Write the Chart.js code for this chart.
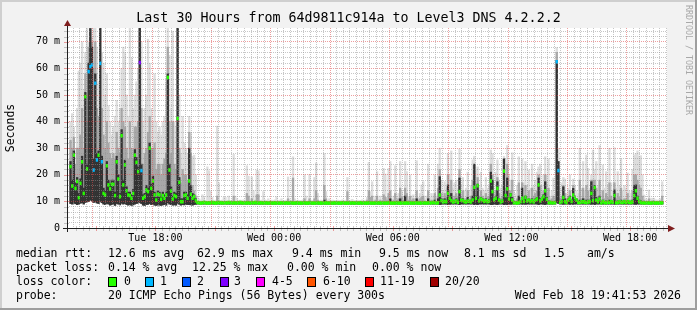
<!DOCTYPE html>
<html><head><meta charset="utf-8">
<script src="https://cdn.jsdelivr.net/npm/chart.js@4.4.1/dist/chart.umd.min.js"></script>
<style>html,body{margin:0;padding:0;background:#f2f2f2;}canvas{display:block;}</style>
</head><body>
<canvas id="c" width="697" height="310"></canvas>
<script>
// ---------- DATA (5-minute steps, ms) ----------
const med = [
23.1,15.8,27.4,14.9,17.5,11.4,16.8,24.9,13.0,49.4,22.2,58.8,
60.7,61.3,21.8,54.4,25.6,27.4,61.9,24.9,13.0,12.4,23.4,16.2,
14.7,16.4,16.4,12.2,24.9,18.4,11.8,34.7,16.2,23.7,14.0,12.4,
12.2,11.2,13.0,27.4,24.7,21.2,62.2,21.6,11.2,11.8,14.3,13.7,
30.0,14.9,17.7,12.4,10.5,12.7,12.4,10.8,12.2,11.2,12.4,56.6,
21.8,13.9,10.9,12.2,11.8,41.2,17.2,9.9,9.9,12.2,12.4,11.2,
17.7,12.7,11.2,11.8,10.2,9.6,9.5,9.4,9.5,9.6,9.5,9.4,
9.5,9.5,9.6,9.5,9.4,9.5,9.6,9.5,9.5,9.4,9.5,9.5,
9.6,9.5,9.4,9.5,9.5,9.4,9.5,9.6,9.5,9.4,9.4,9.5,
9.5,9.4,9.5,9.5,9.6,9.5,9.4,9.5,9.5,9.4,9.5,9.5,
9.4,9.5,9.4,9.4,9.5,9.4,9.4,9.4,9.5,9.4,9.4,9.5,
9.4,9.4,9.5,9.4,9.4,9.5,9.4,9.4,9.4,9.4,9.5,9.4,
9.4,9.5,9.4,9.4,9.4,9.4,9.5,9.4,9.4,9.4,9.4,9.5,
9.4,9.4,9.4,9.4,9.5,9.4,9.4,9.4,9.4,9.5,9.4,9.4,
9.4,9.4,9.4,9.5,9.4,9.4,9.4,9.4,9.5,9.4,9.4,9.4,
9.4,9.5,9.4,9.4,9.4,9.4,9.4,9.5,9.4,9.4,9.4,9.4,
9.4,9.5,9.4,9.4,9.4,9.4,9.5,9.4,9.4,9.4,9.4,9.4,
9.5,9.4,9.4,9.4,9.4,9.4,9.5,9.4,9.4,9.4,9.4,9.5,
9.4,9.5,9.4,9.5,9.6,9.5,9.4,9.5,12.4,10.3,9.8,10.0,
9.9,13.0,11.2,10.3,9.8,9.9,10.2,9.7,13.7,10.5,10.3,9.9,
9.8,10.1,10.0,9.8,10.5,15.3,11.2,15.9,10.2,10.9,10.5,10.0,
10.3,9.9,10.1,17.7,13.7,10.6,11.2,14.9,10.5,9.8,10.1,21.4,
12.2,14.7,10.9,12.4,10.5,9.5,9.5,9.4,9.6,9.9,11.2,10.0,
11.5,10.2,10.5,9.9,10.3,9.8,10.4,10.9,16.2,10.2,10.9,11.8,
14.0,10.8,9.5,9.6,9.5,9.5,9.5,62.5,21.6,9.7,9.9,11.5,
9.9,9.6,10.5,11.2,10.0,12.4,11.4,10.5,9.6,9.6,9.8,9.9,
9.7,9.6,9.8,9.9,13.0,10.3,15.2,10.5,9.9,10.9,9.4,9.9,
9.6,9.5,9.7,9.6,9.9,9.7,12.2,9.5,9.6,9.8,9.7,9.6,
9.9,9.6,9.9,9.7,9.6,9.8,12.2,14.0,11.2,9.9,9.6,9.5,
9.5,9.4,9.5,9.5,9.4,9.5,9.5,9.4,9.5,9.4,9.5,9.5];

// lost pings (of 20) per step
const loss = [
0,0,0,0,0,0,0,0,0,0,0,1,
1,1,1,1,1,0,1,1,0,0,0,0,
0,0,0,0,0,0,0,0,0,0,0,0,
0,0,0,0,0,0,3,1,0,0,0,0,
0,0,0,0,0,0,0,0,0,0,0,0,
0,0,0,0,0,0,0,0,0,0,0,0,
0,0,0,0,0,0,0,0,0,0,0,0,
0,0,0,0,0,0,0,0,0,0,0,0,
0,0,0,0,0,0,0,0,0,0,0,0,
0,0,0,0,0,0,0,0,0,0,0,0,
0,0,0,0,0,0,0,0,0,0,0,0,
0,0,0,0,0,0,0,0,0,0,0,0,
0,0,0,0,0,0,0,0,0,0,0,0,
0,0,0,0,0,0,0,0,0,0,0,0,
0,0,0,0,0,0,0,0,0,0,0,0,
0,0,0,0,0,0,0,0,0,0,0,0,
0,0,0,0,0,0,0,0,0,0,0,0,
0,0,0,0,0,0,0,0,0,0,0,0,
0,0,0,0,0,0,0,0,0,0,0,0,
0,0,0,0,0,0,0,0,0,0,0,0,
0,0,0,0,0,0,0,0,0,0,0,0,
0,0,0,0,0,0,0,0,0,0,0,0,
0,0,0,0,0,0,0,0,0,0,0,0,
0,0,0,0,0,0,0,0,0,0,0,0,
0,0,0,0,0,0,0,1,1,0,0,0,
0,0,0,0,0,0,0,0,0,0,0,0,
0,0,0,0,0,0,0,0,0,0,0,0,
0,0,0,0,0,0,0,0,0,0,0,0,
0,0,0,0,0,0,0,0,0,0,0,0,
0,0,0,0,0,0,0,0,0,0,0,0];

// fastest ping per step
const lo = [
9.2,9.0,9.4,9.1,8.8,9.0,9.3,9.5,9.0,9.6,9.8,10.0,
10.5,10.2,9.6,9.8,9.4,9.2,10.0,9.5,9.0,8.8,9.2,9.0,
8.6,8.8,9.0,8.5,9.2,9.0,8.7,9.3,9.0,9.2,8.8,8.6,
8.8,8.5,8.7,9.0,9.2,9.4,9.6,9.2,8.6,8.5,8.8,8.9,
9.2,8.8,9.0,8.6,8.5,8.7,8.6,8.5,8.7,8.8,8.6,9.5,
9.0,8.8,8.6,8.7,8.6,9.3,8.9,8.6,8.8,8.7,8.9,8.8,
8.8,8.7,8.6,8.8,8.9,9.0,9.0,9.0,9.0,9.0,9.0,9.0,
9.0,9.0,9.0,9.0,9.0,9.0,9.0,9.0,9.0,9.0,9.0,9.0,
9.0,9.0,9.0,9.0,9.0,9.0,9.0,9.0,9.0,9.0,9.0,9.0,
9.0,9.0,9.0,9.0,9.0,9.0,9.0,9.0,9.0,9.0,9.0,9.0,
9.0,9.0,9.0,9.0,9.0,9.0,9.0,9.0,9.0,9.0,9.0,9.0,
9.0,9.0,9.0,9.0,9.0,9.0,9.0,9.0,9.0,9.0,9.0,9.0,
9.0,9.0,9.0,9.0,9.0,9.0,9.0,9.0,9.0,9.0,9.0,9.0,
9.0,9.0,9.0,9.0,9.0,9.0,9.0,9.0,9.0,9.0,9.0,9.0,
9.0,9.0,9.0,9.0,9.0,9.0,9.0,9.0,9.0,9.0,9.0,9.0,
9.0,9.0,9.0,9.0,9.0,9.0,9.0,9.0,9.0,9.0,9.0,9.0,
9.0,9.0,9.0,9.0,9.0,9.0,9.0,9.0,9.0,9.0,9.0,9.0,
9.0,9.0,9.0,9.0,9.0,9.0,9.0,9.0,9.0,9.0,9.0,9.0,
9.0,9.0,9.0,9.0,9.0,9.0,9.0,9.0,8.8,8.9,9.0,9.0,
9.0,8.8,8.9,9.0,9.0,9.0,9.0,9.0,8.8,9.0,9.0,9.0,
9.0,9.0,9.0,9.0,9.0,8.8,8.9,8.8,9.0,9.0,9.0,9.0,
9.0,9.0,9.0,8.8,8.8,9.0,8.9,8.8,9.0,9.0,9.0,8.8,
8.9,8.8,9.0,8.9,9.0,9.0,9.0,9.0,9.0,9.0,8.9,9.0,
8.9,9.0,9.0,9.0,9.0,9.0,9.0,9.0,8.8,9.0,9.0,8.9,
8.8,9.0,9.0,9.0,9.0,9.0,9.0,9.6,9.2,9.0,9.0,8.9,
9.0,9.0,9.0,8.9,9.0,8.9,9.0,9.0,9.0,9.0,9.0,9.0,
9.0,9.0,9.0,9.0,8.9,9.0,8.8,9.0,9.0,9.0,9.0,9.0,
9.0,9.0,9.0,9.0,9.0,9.0,8.9,9.0,9.0,9.0,9.0,9.0,
9.0,9.0,9.0,9.0,9.0,9.0,8.9,8.9,9.0,9.0,9.0,9.0,
9.0,9.0,9.0,9.0,9.0,9.0,9.0,9.0,9.0,9.0,9.0,9.0];

// top of dense (dark) smoke
const dk = [
25,18,29,17,19,13,18.5,27,15,51,24,62,
75,68,26,58,28,29,78,27,15,14,25,18,
16.5,18,18,13.5,27,20,13,37,18,25.5,15.5,13.5,
13.5,12.5,14.5,29.5,26.5,23,78,24,12.5,13,16,15,
32,16.5,19.5,13.5,11.5,14,13.5,12,13.5,12.5,13.5,58,
24,15.5,12,13.5,13,78,19,11,11,13.5,13.5,12.5,
30,16,13,12.5,11,9.6,9.6,9.6,9.6,9.6,9.6,9.6,
9.6,9.6,9.6,9.6,9.6,9.6,9.6,9.6,9.6,9.6,9.6,9.6,
9.6,9.6,9.6,9.6,9.6,9.6,9.6,9.6,9.6,9.6,9.6,9.6,
9.6,9.6,9.6,9.6,9.6,9.6,9.6,9.6,9.6,9.6,9.6,9.6,
9.6,9.6,9.6,9.6,9.6,9.6,9.6,9.6,9.6,9.6,9.6,9.6,
9.6,9.6,9.6,9.6,9.6,9.6,9.6,9.6,9.6,9.6,9.6,9.6,
9.6,9.6,9.6,9.6,9.6,9.6,9.6,9.6,9.6,9.6,10.5,9.6,
9.6,9.6,9.6,9.6,9.6,9.6,9.6,9.6,9.6,9.6,9.6,9.6,
9.6,9.6,9.6,9.6,9.6,9.6,9.6,9.6,9.6,9.6,9.6,9.6,
9.6,9.6,9.6,9.6,9.6,9.6,9.6,9.6,9.6,9.6,9.6,9.6,
9.6,9.6,11,9.6,9.6,9.6,9.6,9.6,11,9.6,9.6,12,
9.6,9.6,9.6,9.6,9.6,9.6,11,9.6,9.6,9.6,9.6,9.6,
9.6,11,9.6,9.8,9.8,10.5,9.6,11,19.3,11,10.2,11,
10.5,16.2,12,13,10.2,10.5,11,10.3,18.8,11,11,10.2,
10.2,11.5,10.3,10.5,12,24,12,16.5,10.8,11.5,11,10.3,
11,10.3,10.8,21,18,10.8,12,17.4,11,10.2,10.5,26,
12.5,18.8,11.5,13,11.5,9.8,9.6,9.8,12,10.3,15,10.5,
12,10.5,11,10.2,11,10.2,11,11.5,18.8,11,11,12.5,
17.4,11.5,10.2,9.8,9.8,10,9.7,63,25,10,10.5,15.5,
11,10,11,12,10.5,14.9,12,11,9.8,10.5,10,11,
10,10.5,10.5,10.2,17.4,11,16,11.5,10.2,12,9.6,10.5,
10,10.2,10,10.5,10.2,10,14.3,9.8,10.2,10,10.5,9.8,
10.2,9.8,10.2,9.9,9.8,10.5,16,16.2,12,10.5,10.2,9.8,
9.7,9.6,9.6,9.7,9.6,9.6,9.6,9.6,9.6,9.6,9.6,9.8];

// top of medium smoke
const mid = [
33,30,34,24,30,30,35,45,30,58,40,68,
78,70,60,70,45,42,78,45,35,30,40,32,
28,26,28,26,36,30,28,45,40,38,30,26,
40,30,26,38,38,40,78,45,24,28,30,36,
42,30,30,32,22,24,24,20,24,26,28,68,
40,28,40,24,22,78,30,17,22,20,20,18,
36,28,16,14,12,9.8,9.8,9.8,9.8,9.8,9.8,9.8,
9.8,9.8,9.8,9.8,9.8,12,9.8,9.8,9.8,9.8,9.8,9.8,
9.8,9.8,9.8,12,9.8,9.8,9.8,9.8,9.8,9.8,9.8,13,
12,9.8,11,9.8,9.8,12.5,12.5,9.8,9.8,9.8,9.8,9.8,
9.8,9.8,9.8,9.8,9.8,9.8,9.8,9.8,9.8,9.8,9.8,9.8,
11,9.8,9.8,18.8,9.8,9.8,9.8,9.8,9.8,9.8,11,9.8,
9.8,11,9.8,9.8,11,14,10.5,9.8,9.8,9.8,16,11,
9.8,9.8,9.8,9.8,9.8,9.8,9.8,9.8,9.8,9.8,9.8,9.8,
13.7,9.8,9.8,9.8,9.8,9.8,9.8,9.8,9.8,9.8,9.8,9.8,
10.5,14,11.5,12,9.8,10.5,12,9.8,10.5,9.8,12.5,11.5,
10.5,13,14,9.8,10.5,13,10.5,11,15,11.5,10.5,15,
13,10.5,12,10.5,11,10.2,14,10.5,11,11.5,12,10.2,
10,14,10,10.5,10,13,10,15,22,13,11,13,
11.5,20,14,18,11,12,13,11.5,22,12,14,11,
11,14,11,12,18,24,15,19,12,14,12,11,
13,11.5,12,24,20,11,14,19,13,11,12,26,
15,24,14,14,18,10.5,10.2,11,17,11.5,17,12,
16,12,14,11,15,12,13,14,20,16,12,14,
20,13,15,10.5,11,12,10.5,66,25,11,12,16,
13,11,12,14,11,16,12,11,10.5,18,11,15,
11,16,14,11,18,18,18,15,11,18,10.5,14,
11,13,11.5,17,12,10.5,17,11,13,11.5,15,10.5,
11,11,13,10.5,10.5,14,20,20,18,16,15,12,
10.5,10,10,11,10,10.2,10.2,10,10,10,10.2,12];

// slowest ping per step
const hi = [
40,43,38,30,45,59,62,70,52,66,78,70,
78,72,78,78,68,55,78,66,62,50,58,46,
40,35,38,42,48,40,45,60,68,66,50,42,
78,64,45,50,55,60,78,70,40,45,50,71,
62,45,40,58,40,36,38,35,40,42,55,78,
65,45,74,40,38,78,50,28,42,32,30,28,
42,36,27,27.4,20,12,11,10.5,12.5,11.5,10.4,23,
21.5,14,11.5,10.4,10.5,38.3,17,10.4,10.5,11.5,11.5,10.4,
12,10.4,10.5,27.7,12,11,10.4,10.5,10.4,10.6,10.4,23.4,
19.5,10.5,19.2,14,10.5,21.8,21.5,10.4,10.5,13.7,10.6,10.4,
11,10.4,10.5,10.4,10.6,11.8,10.4,10.5,11,10.4,10.4,10.5,
19.2,10.6,10.4,26.8,11,10.4,10.5,10.4,10.4,10.6,20.1,12,
10.4,20.1,10.5,10.4,19,24.5,13,10.4,10.5,10.4,28,13.7,
10.4,11,10.4,10.5,10.4,10.4,10.5,10.4,10.4,10.6,10.4,10.5,
19,10.4,10.5,10.8,10.4,10.4,10.5,10.4,10.4,10.6,10.4,10.5,
11.5,24.7,13.7,17.4,10.5,12,21.2,10.6,12,10.5,22.4,20.3,
11.5,22.4,25,10.6,12,23.4,11.5,13,25,13.7,12,25,
21.2,11.8,20,12,12.5,11,25.3,11.5,13,16.2,17.4,11,
12,24,11.5,13,12,20,12,24,30,18,14,17.4,
15,28,20,29,15,17,18,15,29.7,16,19,14,
15,21,14,16,25.6,27,22,23,16,21,15,14,
19,15,16,29.3,28,14,21,25.6,18,15,16,27,
20,31,20,18,28.3,14,13,16,26.8,15,26,17,
25,16,21.8,15,24,16,18,21,23,24,16,20,
26.8,20,26,12,14,18.8,12,67.8,30,15,17,19,
18.4,13,15,20,14,18.4,16,14,13,30,15,25,
14,27.4,22.4,15,20,29.3,22,25,16,31,14,23.7,
15,21.2,16,30,17,14,30.2,15,21.2,16,26,14,
16,15,20.7,14,13,22,27.4,28,29,27,27.2,20,
12.4,11,10.6,14.3,11,11.2,11.2,10.6,10.5,10.6,11,17.4];

// time axis (hours since Tue 00:00)
const firstStepHour = 13 + 40/60;           // first 5-minute step starts Tue 13:40
const stepMinutes = 5;
const windowStartHour = 13 + 41/60 + 53/3600; // Tue 13:41:53
const windowHours = 30;
const xTickHours = [18, 24, 30, 36, 42];
const xTickLabels = ['Tue 18:00', 'Wed 00:00', 'Wed 06:00', 'Wed 12:00', 'Wed 18:00'];
const yTickValues = [0, 10, 20, 30, 40, 50, 60, 70];
const yTickLabels = ['0', '10 m', '20 m', '30 m', '40 m', '50 m', '60 m', '70 m'];
const yMax = 75.2;

// legend texts
const titleText = 'Last 30 Hours from 64d9811c914a to Level3 DNS 4.2.2.2';
const rttStats = ['12.6 ms avg', '62.9 ms max', '9.4 ms min', '9.5 ms now', '8.1 ms sd', '1.5', 'am/s'];
const lossStats = ['0.14 % avg', '12.25 % max', '0.00 % min', '0.00 % now'];
const lossLegendLabels = ['0', '1', '2', '3', '4-5', '6-10', '11-19', '20/20'];
const lossLegendColors = ['#26ff00', '#00b8ff', '#0059ff', '#7e00ff', '#ff00ff', '#ff5500', '#ff0000', '#a00000'];
const probeText = '20 ICMP Echo Pings (56 Bytes) every 300s';
const dateText = 'Wed Feb 18 19:41:53 2026';

// ---------- RENDER ----------
const FONT = '"DejaVu Sans Mono", "Liberation Mono", monospace';
const GRID = 'rgba(143,143,143,0.5)';
const MGRID = 'rgba(222,79,79,0.55)';
const idx = med.map((_, i) => i);
const xc = i => firstStepHour + (i + 0.5) * stepMinutes / 60;
function lossColor(n) {
  if (n <= 0) return lossLegendColors[0];
  if (n === 1) return lossLegendColors[1];
  if (n === 2) return lossLegendColors[2];
  if (n === 3) return lossLegendColors[3];
  if (n <= 5) return lossLegendColors[4];
  if (n <= 10) return lossLegendColors[5];
  if (n <= 19) return lossLegendColors[6];
  return lossLegendColors[7];
}
const barCommon = { grouped: false, barPercentage: 1, categoryPercentage: 1, borderWidth: 0 };

const decor = {
  id: 'decor',
  beforeDraw(chart) {
    const { ctx, chartArea: a, width, height } = chart;
    ctx.save();
    ctx.fillStyle = '#f2f2f2'; ctx.fillRect(0, 0, width, height);
    ctx.fillStyle = '#cfcfcf'; ctx.fillRect(0, 0, width, 2); ctx.fillRect(0, 0, 2, height);
    ctx.fillStyle = '#9e9e9e'; ctx.fillRect(0, height - 2, width, 2); ctx.fillRect(width - 2, 0, 2, height);
    ctx.fillStyle = '#ffffff'; ctx.fillRect(a.left, a.top, a.right - a.left, a.bottom - a.top);
    ctx.restore();
  },
  afterDraw(chart) {
    const { ctx, chartArea: a, scales } = chart;
    ctx.save();
    // tick marks
    ctx.lineWidth = 1;
    scales.x.ticks.forEach(t => {
      const x = Math.round(scales.x.getPixelForValue(t.value)) + 0.5;
      const major = Math.round(t.value * 60) % 180 === 0;
      ctx.strokeStyle = major ? MGRID : GRID;
      ctx.beginPath(); ctx.moveTo(x, a.bottom - 2); ctx.lineTo(x, a.bottom + 3); ctx.stroke();
    });
    scales.y.ticks.forEach(t => {
      const y = Math.round(scales.y.getPixelForValue(t.value)) + 0.5;
      const major = t.value % 10 === 0;
      ctx.strokeStyle = major ? MGRID : GRID;
      ctx.beginPath(); ctx.moveTo(a.left - 3, y); ctx.lineTo(a.left + 2, y); ctx.stroke();
    });
    // axes
    ctx.strokeStyle = '#1f1f1f';
    ctx.beginPath(); ctx.moveTo(a.left - 4, a.bottom + 0.5); ctx.lineTo(a.right + 2, a.bottom + 0.5); ctx.stroke();
    ctx.beginPath(); ctx.moveTo(a.left + 0.5, a.bottom + 4); ctx.lineTo(a.left + 0.5, a.top - 3); ctx.stroke();
    ctx.fillStyle = '#801f1f';
    ctx.beginPath(); ctx.moveTo(a.right + 8, a.bottom + 0.5); ctx.lineTo(a.right + 1, a.bottom - 3); ctx.lineTo(a.right + 1, a.bottom + 4); ctx.closePath(); ctx.fill();
    ctx.beginPath(); ctx.moveTo(a.left + 0.5, a.top - 8); ctx.lineTo(a.left - 3, a.top - 2); ctx.lineTo(a.left + 4, a.top - 2); ctx.closePath(); ctx.fill();
    // title
    ctx.fillStyle = '#000';
    ctx.textBaseline = 'middle';
    ctx.textAlign = 'center';
    ctx.font = '13.3px ' + FONT;
    ctx.fillText(titleText, 348.5, 19);
    // y axis title
    ctx.save();
    ctx.font = '11.5px ' + FONT;
    ctx.translate(11, 128); ctx.rotate(-Math.PI / 2);
    ctx.fillText('Seconds', 0, 0);
    ctx.restore();
    // watermark
    ctx.save();
    ctx.fillStyle = '#a8a8a8';
    ctx.font = '8.3px ' + FONT;
    ctx.textAlign = 'left';
    ctx.translate(688, 5); ctx.rotate(Math.PI / 2);
    ctx.fillText('RRDTOOL / TOBI OETIKER', 0, 0);
    ctx.restore();
    // legend
    ctx.textAlign = 'left';
    ctx.font = '11.5px ' + FONT;
    const rows = [254, 268, 282, 296];
    ctx.fillText('median rtt:', 16, rows[0]);
    [108, 197, 292, 379, 464, 544, 587].forEach((x, i) => ctx.fillText(rttStats[i], x, rows[0]));
    ctx.fillText('packet loss:', 16, rows[1]);
    [108, 192, 287, 372].forEach((x, i) => ctx.fillText(lossStats[i], x, rows[1]));
    ctx.fillText('loss color:', 16, rows[2]);
    const sq = [108, 145, 182, 220, 256, 307, 365, 430];
    const lx = [124, 160, 197, 234, 272, 323, 380, 445];
    lossLegendLabels.forEach((lab, i) => {
      ctx.fillStyle = lossLegendColors[i];
      ctx.fillRect(sq[i], rows[2] - 4, 8, 8);
      ctx.strokeStyle = '#000'; ctx.lineWidth = 1;
      ctx.strokeRect(sq[i] + 0.5, rows[2] - 4.5, 8, 9);
      ctx.fillStyle = '#000';
      ctx.fillText(lab, lx[i], rows[2]);
    });
    ctx.fillText('probe:', 16, rows[3]);
    ctx.fillText(probeText, 108, rows[3]);
    ctx.textAlign = 'right';
    ctx.fillText(dateText, 681, rows[3]);
    ctx.restore();
  }
};

new Chart(document.getElementById('c'), {
  type: 'bar',
  data: {
    datasets: [
      Object.assign({ label: 'smoke outer', data: idx.map(i => ({ x: xc(i), y: [lo[i], hi[i]] })), backgroundColor: '#dddddd', order: 4 }, barCommon),
      Object.assign({ label: 'smoke mid', data: idx.map(i => ({ x: xc(i), y: [lo[i], mid[i]] })), backgroundColor: '#a8a8a8', order: 3 }, barCommon),
      Object.assign({ label: 'smoke core', data: idx.map(i => ({ x: xc(i), y: [lo[i], dk[i]] })), backgroundColor: '#333333', order: 2 }, barCommon),
      Object.assign({ label: 'median', data: idx.map(i => ({ x: xc(i), y: [med[i] - 0.55, med[i] + 0.55] })),
        backgroundColor: c => lossColor(loss[c.dataIndex]), order: 1 }, barCommon)
    ]
  },
  options: {
    responsive: false, animation: false, devicePixelRatio: 1,
    layout: { padding: { left: 0, right: 30, top: 28, bottom: 0 } },
    plugins: { legend: { display: false }, tooltip: { enabled: false }, title: { display: false } },
    scales: {
      x: {
        type: 'linear', bounds: 'data', min: windowStartHour, max: windowStartHour + windowHours,
        afterFit(s) { s.height = 82; },
        afterBuildTicks(s) {
          const t = [];
          for (let m = 14 * 60; m <= (windowStartHour + windowHours) * 60; m += 20) t.push({ value: m / 60 });
          s.ticks = t;
        },
        grid: { color: c => (c.tick && Math.round(c.tick.value * 60) % 180 === 0) ? MGRID : GRID, lineWidth: 1, drawTicks: false, z: 1 },
        border: { display: false, dash: [1, 1] },
        ticks: {
          autoSkip: false, maxRotation: 0, minRotation: 0, padding: 4, color: '#000',
          font: { family: FONT, size: 10 },
          callback: v => { const i = xTickHours.findIndex(h => h * 60 === Math.round(v * 60)); return i >= 0 ? xTickLabels[i] : ''; }
        }
      },
      y: {
        type: 'linear', bounds: 'data', min: 0, max: yMax,
        afterFit(s) { s.width = 67; },
        afterBuildTicks(s) {
          const t = [];
          for (let v = 0; v <= 74; v += 2) t.push({ value: v });
          s.ticks = t;
        },
        grid: { color: c => (c.tick && c.tick.value % 10 === 0) ? MGRID : GRID, lineWidth: 1, drawTicks: false, z: 1 },
        border: { display: false, dash: [1, 1] },
        ticks: {
          autoSkip: false, padding: 7, color: '#000',
          font: { family: FONT, size: 10 },
          callback: v => { const i = yTickValues.indexOf(v); return i >= 0 ? yTickLabels[i] : ''; }
        }
      }
    }
  },
  plugins: [decor]
});
</script>
</body></html>
